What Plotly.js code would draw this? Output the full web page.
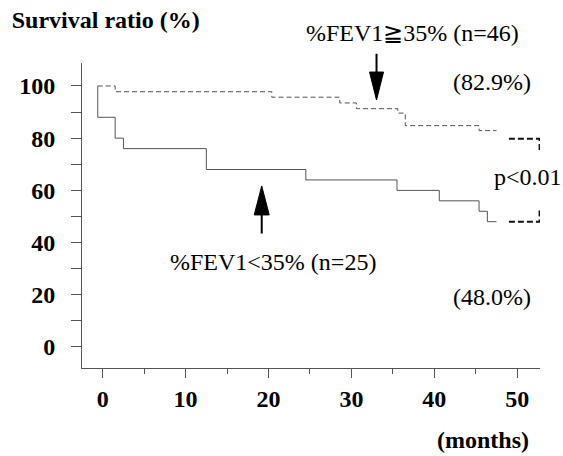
<!DOCTYPE html>
<html><head><meta charset="utf-8">
<script src="https://cdn.plot.ly/plotly-3.0.1.min.js"></script>
<style>html,body{margin:0;padding:0;background:#fff}#chart{width:563px;height:456px}</style>
</head><body><div id="chart"></div>
<script>
// Kaplan-Meier survival, %FEV1 >= 35% (n=46)
const highMonths   = [-0.6, 1.5, 20.4, 28.6, 30.6, 35.6, 36.5, 45.4, 47.5];
const highSurvival = [100, 97.8, 95.7, 93.5, 91.3, 89.6, 84.8, 82.9, 82.9];
// Kaplan-Meier survival, %FEV1 < 35% (n=25)
const lowMonths   = [-0.6, -0.6, 1.5, 2.5, 12.5, 24.5, 35.5, 40.6, 45.4, 46.4, 47.5];
const lowSurvival = [100, 88, 80, 76, 68, 64, 60, 56, 52, 48, 48];
// p-value bracket ends
const bracketTopMonths = [49.0, 52.7, 52.7];
const bracketTopSurvival = [79.8, 79.8, 75.5];
const bracketBottomMonths = [49.0, 52.7, 52.7];
const bracketBottomSurvival = [48.0, 48.0, 52.5];
// ticks
const xTickVals = [0, 10, 20, 30, 40, 50];
const xTickText = ['0', '10', '20', '30', '40', '50'];
const xMinorTickVals = [5, 15, 25, 35, 45];
const yTickVals = [0, 10, 20, 30, 40, 50, 60, 70, 80, 90, 100];
const yTickText = ['0', '', '20', '', '40', '', '60', '', '80', '', '100'];

const serif = 'Liberation Serif';

const traces = [
  {x: highMonths, y: highSurvival, type: 'scatter', mode: 'lines',
   line: {shape: 'hv', color: '#555', width: 1, dash: '5px,3px'}, hoverinfo: 'skip'},
  {x: lowMonths, y: lowSurvival, type: 'scatter', mode: 'lines',
   line: {shape: 'hv', color: '#555', width: 1}, hoverinfo: 'skip'},
  {x: bracketTopMonths, y: bracketTopSurvival, type: 'scatter', mode: 'lines', cliponaxis: false,
   line: {color: '#111', width: 2, dash: '6px,3px'}, hoverinfo: 'skip'},
  {x: bracketBottomMonths, y: bracketBottomSurvival, type: 'scatter', mode: 'lines', cliponaxis: false,
   line: {color: '#111', width: 2, dash: '6px,3px'}, hoverinfo: 'skip'}
];

const txt = (text, x, y, yref) => ({
  text: text, x: x, y: y, xref: 'x', yref: yref, showarrow: false,
  xanchor: 'center', yanchor: 'middle', font: {family: serif, size: 24, color: '#000'}
});

const layout = {
  width: 563, height: 456,
  margin: {l: 82, r: 23, t: 63, b: 88},
  paper_bgcolor: '#fff', plot_bgcolor: '#fff',
  showlegend: false,
  font: {family: serif, color: '#000'},
  title: {text: '<b>Survival ratio (%)</b>', xref: 'container', yref: 'container',
          x: 0.0208, xanchor: 'left', y: 0.958, yanchor: 'middle',
          font: {family: serif, size: 24, color: '#000'}},
  xaxis: {range: [-2.5, 52.75], tickmode: 'array', tickvals: xTickVals, ticktext: xTickText,
          ticks: 'outside', ticklen: 9, tickwidth: 1, tickcolor: '#555',
          minor: {tickmode: 'array', tickvals: xMinorTickVals, ticks: 'outside', ticklen: 5,
                  tickwidth: 1, tickcolor: '#555', showgrid: false},
          showline: true, linecolor: '#555', linewidth: 1, showgrid: false, zeroline: false,
          ticklabelstandoff: 0,
          tickfont: {family: serif, size: 24, weight: 'bold', color: '#000'}},
  yaxis: {range: [-8.05, 108.8], tickmode: 'array', tickvals: yTickVals, ticktext: yTickText,
          ticks: 'outside', ticklen: 10, tickwidth: 1, tickcolor: '#555',
          showline: true, linecolor: '#555', linewidth: 1, showgrid: false, zeroline: false,
          ticklabelstandoff: 11,
          tickfont: {family: serif, size: 24, weight: 'bold', color: '#000'}},
  annotations: [
    txt('%FEV1\u226735% (n=46)', 37.4, 1.097, 'paper'),
    txt('(82.9%)', 47.0, 101.6, 'y'),
    txt('p<0.01', 51.3, 65.2, 'y'),
    txt('%FEV1<35% (n=25)', 20.5, 32.7, 'y'),
    txt('(48.0%)', 47.0, 19.1, 'y'),
    txt('<b>(months)</b>', 45.9, -0.236, 'paper'),
    {text: '', x: 33.03, y: 105.3, xref: 'x', yref: 'y', showarrow: true, arrowhead: 0,
     arrowwidth: 2, arrowcolor: '#000', ax: 0, ay: -20, standoff: 0},
    {text: '', x: 19.18, y: 50.6, xref: 'x', yref: 'y', showarrow: true, arrowhead: 0,
     arrowwidth: 2, arrowcolor: '#000', ax: 0, ay: 20, standoff: 0}
  ],
  shapes: [
    {type: 'path', xref: 'x', yref: 'y', xsizemode: 'pixel', ysizemode: 'pixel',
     xanchor: 33.03, yanchor: 94.6, path: 'M0,0 L-7,28 L7,28 Z',
     fillcolor: '#000', line: {color: '#000', width: 1}},
    {type: 'path', xref: 'x', yref: 'y', xsizemode: 'pixel', ysizemode: 'pixel',
     xanchor: 19.18, yanchor: 61.7, path: 'M0,0 L-7.5,-29 L7.5,-29 Z',
     fillcolor: '#000', line: {color: '#000', width: 1}}
  ]
};

Plotly.newPlot('chart', traces, layout, {staticPlot: true, displayModeBar: false});
</script>
</body></html>
